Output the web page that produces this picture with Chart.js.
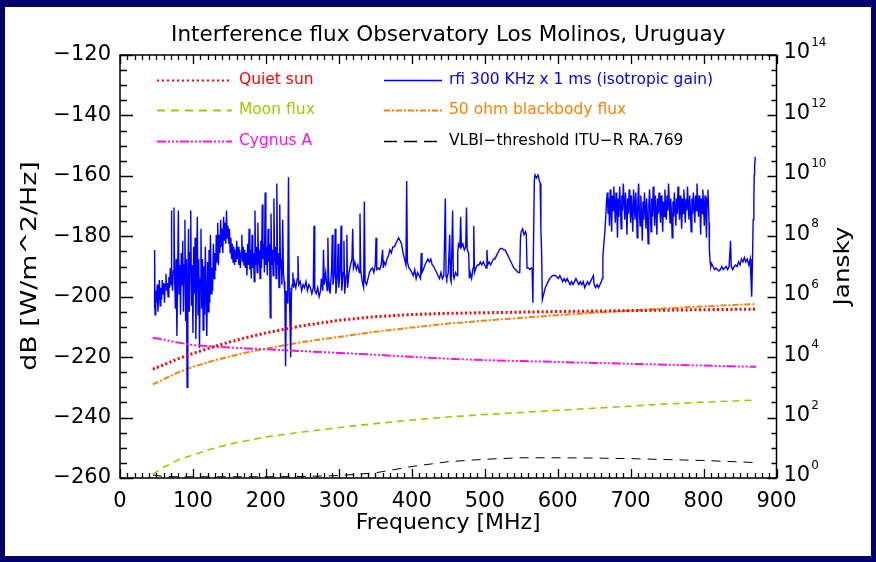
<!DOCTYPE html>
<html>
<head>
<meta charset="utf-8">
<title>Interference flux Observatory Los Molinos</title>
<script src="https://cdn.jsdelivr.net/npm/chart.js@4.4.1/dist/chart.umd.min.js"></script>
<style>
  html, body { margin: 0; padding: 0; background: #000068; }
  canvas { display: block; }
</style>
</head>
<body>
<canvas id="fluxChart" width="876" height="562"></canvas>
<script>
// Interference flux, Los Molinos

// smooth model curves, common frequency grid (MHz)
const smoothFreq = [45, 60, 80, 100, 125, 150, 175, 200, 250, 300, 350, 400, 450, 500, 550, 600, 650, 700, 750, 800, 872];
const quietSun = [-224, -222.5, -220.5, -218.8, -216.8, -215, -213.4, -212, -209.6, -207.8, -206.6, -205.9, -205.5, -205.3, -205.1, -204.9, -204.75, -204.6, -204.45, -204.3, -204.1];
const blackbody = [-229, -227.3, -225, -223.2, -221.4, -219.8, -218.4, -217.2, -215, -213.3, -211.6, -210.2, -208.9, -207.9, -207, -206.1, -205.3, -204.6, -203.8, -203.2, -202.4];
const cygnusA = [-213.6, -214.2, -215.2, -216, -216.4, -216.8, -217.1, -217.4, -218, -218.6, -219.2, -219.9, -220.5, -221, -221.3, -221.6, -221.9, -222.2, -222.5, -222.8, -223.2];
const moonFlux = [-258.7, -256.4, -254, -252.4, -250.4, -248.8, -247.6, -246.4, -244.8, -243.3, -242, -240.8, -239.8, -239, -238.3, -237.6, -236.9, -236.2, -235.5, -234.9, -234.2];
const vlbiThreshold = [-259, -259.5, -259.6, -259.6, -259.6, -259.6, -259.6, -259.6, -259.5, -259.2, -258.3, -256.2, -254.6, -253.8, -253.3, -253.3, -253.4, -253.6, -253.9, -254.2, -254.9];

// measured rfi spectrum [MHz, dB]
const rfiPoints = [
  [47,-204],[47.5,-184.5],[48,-206],[49,-198],[50,-202],[51,-196],[52,-205],[53,-199],[54,-194.5],[55,-203],[56,-197],[57,-201],[58,-194.5],[59,-199],[60,-195.5],[61,-202],[62,-196],[63,-192.5],[64,-198],[65,-195.5],[66,-200],[67,-193.5],[68,-197],[69,-190.5],[70,-196],[70.5,-171.5],[71,-192.5],[72,-198],
  [73,-191.5],[74,-170.5],[75,-195],[76,-204],[77,-187.5],[78,-213],[79,-193.5],[80,-171.5],[81,-199],[82,-189.5],[83,-206],[84,-185.5],
  [85,-196],[86,-181.5],[87,-205],[88,-189.5],[89,-174.5],[90,-208],[91,-187.5],[92,-230],[93,-194],[94,-177.5],[95,-205],[96,-185.5],[97,-171.5],[98,-203],[99,-189.5],[100,-212],[101,-183.5],[102,-199],[103,-180.5],[104,-214],[105,-191],[106,-173.5],[107,-206],[108,-187.5],[109,-217],[110,-194],[111,-177.5],[112,-204],[113,-187.5],[114,-211],[115,-190],[116,-206],[117,-183.5],[118,-200],[119,-213],[120,-188.5],[121,-205],[122,-184.5],[123,-202],[124,-179.5],[125,-199],
  [126,-190.5],[127,-198],[128,-182.5],[129,-194],[130,-185.5],[131,-191.5],[132,-179.5],[133,-188.5],[134,-175.5],[135,-189.5],[136,-179.5],[137,-185.5],[138,-174.5],[139,-183.5],[140,-177.5],[141,-185.5],[142,-173.5],[143,-181.5],[144,-175.5],[145,-182.5],[146,-171.5],[147,-180.5],[148,-176.5],
  [149,-182.5],[150,-177.5],[151,-185.5],[152,-180.5],[153,-187.5],[154,-182.5],[155,-188.5],[156,-183.5],[157,-189.5],[158,-184.5],[159,-188.5],[160,-181.5],[161,-187.5],[162,-183.5],[163,-189.5],[164,-184.5],[165,-190.5],[166,-185.5],[167,-179.5],[168,-188.5],[169,-183.5],[170,-189.5],[171,-184.5],
  [172,-190.5],[173,-185.5],[174,-193],[175,-182.5],[176,-189.5],[177,-177.5],[178,-191],[179,-184.5],[180,-194],[181,-179.5],[182,-190.5],[183,-185.5],[184,-195],[185,-171.5],[186,-189.5],[187,-183.5],[188,-192],[189,-175.5],[190,-189.5],[191,-184.5],[192,-194],[193,-181.5],[194,-190.5],[195,-169.5],[196,-187.5],[197,-182.5],[198,-192],[199,-165.5],[200,-189.5],[201,-183.5],[202,-193],[203,-177.5],[204,-188.5],[205,-182.5],[206,-207],[207,-172.5],[208,-189.5],[209,-184.5],[210,-193],[211,-167.5],[212,-188.5],[213,-183.5],
  [214,-194],[215,-162.5],[216,-189.5],[217,-185.5],[218,-197],[219,-169.5],[220,-191],[221,-187.5],[222,-196],[223,-174.5],[224,-192],
  [225,-195],[226,-199],[227,-223],[228,-198],[229,-202],[230,-194],[231,-160.5],[232,-197],[233,-207],[234,-220],[235,-199],[236,-196],[237,-192],[238,-197],
  [239,-195],[241,-197],[243,-194],[244,-186.5],[245,-196],[247,-195],[249,-198],[251,-196],[253,-197],[255,-195],[257,-198],[259,-196],[261,-197],[263,-199],[265,-197],[266,-176.5],[267,-198],[269,-199],[271,-197],[273,-200],[275,-198],
  [276,-194],[278,-198],[279,-184.5],[280,-196],[282,-192],[284,-198],[285,-180.5],[286,-194],[288,-199],[290,-191],[291,-179.5],[292,-196],[294,-192],[295,-177.5],[296,-199],[298,-193],[299,-182.5],[300,-197],[302,-191],[303,-176.5],[304,-198],[306,-192],[307,-181.5],[308,-199],[310,-193],[311,-179.5],[312,-197],[314,-192],
  [316,-189.5],[318,-187.5],[319,-177.5],[320,-190.5],[322,-188.5],[324,-191],[326,-189.5],[328,-192],
  [329,-172.5],[330,-191],[332,-195],[334,-197],[335,-168.5],[336,-195],[338,-196],[340,-194],[342,-192],
  [344,-191],[346,-190.5],[348,-192],[350,-189.5],[351,-180.5],[352,-191],[354,-190.5],[356,-191],[358,-189.5],[360,-184.5],[361,-190.5],[362,-188.5],[364,-189.5],[366,-187.5],[368,-186.5],[370,-184.5],[372,-185.5],[374,-183.5],
  [376,-183.5],[378,-182.5],[380,-181.5],[382,-180.5],[384,-181.5],[386,-182.5],[388,-185.5],
  [390,-187.5],[392,-189.5],[393,-161.7],[394,-188.5],[396,-190.5],[398,-191],
  [400,-192],[402,-193],[404,-191],[406,-194],[408,-192],[410,-193],[412,-194],[413,-185.5],[414,-192],[416,-191],
  [418,-189.5],[420,-188.5],[422,-187.5],[424,-188.5],[426,-187.5],[428,-189.5],[430,-190],[432,-191],[434,-192],
  [436,-193],[438,-194],[440,-192],[442,-194],[444,-193],[446,-167.5],[447,-193],[448,-194],[450,-192],[452,-179.5],[453,-194],[454,-195],[456,-171.5],[457,-193],[458,-194],[460,-192],[462,-193],
  [463,-185.5],[464,-182.5],[466,-183.5],[467,-173.5],[468,-183.5],[470,-182.5],[472,-184.5],[474,-183.5],[475,-170.5],[476,-184.5],[478,-185.5],[479,-194],[480,-192],
  [482,-194],[484,-190.5],[485,-176.5],[486,-192],[488,-190.5],[490,-189.5],
  [492,-189.5],[494,-188.5],[496,-189.5],[498,-188.5],[500,-189.5],[502,-190.5],[503,-184.5],[504,-189.5],[506,-188.5],[508,-189.5],[510,-188.5],[512,-187.5],[514,-187.5],[516,-186.5],
  [518,-185.5],[520,-184.5],[522,-184],[524,-184],[526,-184.5],[528,-184.5],[530,-185.5],[532,-186.5],[534,-187.5],[536,-188.5],[538,-189.5],[540,-190.5],[542,-191],[544,-191.5],[546,-192],[548,-192],
  [549,-180.5],[550,-178.5],[552,-177.5],[554,-179.5],[556,-178.5],[557,-179.5],
  [558,-190.5],[560,-190.5],[562,-191],[564,-190.5],[565,-191],
  [566,-202],[567,-180.5],[568,-161.7],[569,-159.7],[571,-160.7],[573,-159.7],[575,-161.7],[576,-162.5],[577,-177.5],[578,-185.5],[579,-201],
  [581,-199],[583,-197],[585,-196],[587,-195],[589,-194],[591,-193.5],[593,-193],[595,-193],
  [597,-193],[599,-193.5],[601,-194],[603,-193],[605,-194],[607,-195],[609,-194],[611,-195],[613,-194],
  [615,-195],[617,-196],[619,-195],[621,-196],[623,-195],[625,-194],[627,-195],[629,-196],[631,-195],[633,-196],[635,-195],[637,-197],[639,-196],[641,-195],[643,-196],[645,-195],[647,-194],[649,-193],
  [650,-196],[652,-197],[654,-196],[656,-197],[658,-196],[660,-195],
  [661,-194],[662,-186.5],[663,-183.5],[665,-177.5],[667,-168.5],
  [668,-165.5],[669,-172.5],[670,-167.5],[671,-176.5],[672,-164.5],[673,-170.5],[674,-178.5],[675,-166.5],[676,-171.5],[677,-163.5],[678,-169.5],[679,-175.5],[680,-165.5],[681,-170.5],[682,-180.5],[683,-167.5],[684,-173.5],[685,-163.5],[686,-169.5],[687,-177.5],[688,-166.5],[689,-171.5],[690,-162.5],[691,-168.5],[692,-174.5],[693,-165.5],[694,-170.5],[695,-179.5],[696,-167.5],[697,-172.5],[698,-164.5],[699,-169.5],[700,-175.5],
  [701,-166.5],[702,-171.5],[703,-178.5],[704,-164.5],[705,-169.5],[706,-174.5],[707,-165.5],[708,-170.5],[709,-180.5],[710,-167.5],[711,-162.5],[712,-171.5],[713,-176.5],[714,-166.5],[715,-172.5],[716,-181.5],[717,-168.5],[718,-174.5],[719,-165.5],[720,-170.5],[721,-177.5],[722,-167.5],[723,-173.5],[724,-182.5],[725,-169.5],[726,-164.5],[727,-171.5],[728,-178.5],[729,-167.5],[730,-173.5],
  [731,-163.5],[732,-169.5],[733,-176.5],[734,-166.5],[735,-171.5],[736,-179.5],[737,-167.5],[738,-172.5],[739,-165.5],[740,-170.5],[741,-175.5],[742,-166.5],[743,-171.5],[744,-178.5],[745,-168.5],[746,-173.5],[747,-164.5],[748,-169.5],[749,-174.5],[750,-166.5],[751,-171.5],[752,-162.5],[753,-168.5],[754,-175.5],[755,-167.5],[756,-172.5],[757,-180.5],[758,-168.5],[759,-173.5],[760,-165.5],
  [761,-170.5],[762,-176.5],[763,-167.5],[764,-172.5],[765,-163.5],[766,-169.5],[767,-174.5],[768,-166.5],[769,-171.5],[770,-177.5],[771,-167.5],[772,-172.5],[773,-164.5],[774,-169.5],[775,-175.5],[776,-167.5],[777,-171.5],[778,-163.5],[779,-169.5],[780,-174.5],[781,-166.5],[782,-171.5],[783,-178.5],[784,-167.5],[785,-172.5],[786,-165.5],[787,-170.5],[788,-175.5],[789,-166.5],[790,-171.5],
  [791,-162.5],[792,-168.5],[793,-173.5],[794,-166.5],[795,-170.5],[796,-179.5],[797,-167.5],[798,-172.5],[799,-164.5],[800,-169.5],[801,-176.5],[802,-166.5],[803,-171.5],[804,-180.5],[805,-167.5],[806,-164.5],[807,-171.5],
  [807.5,-175.5],[808,-184.5],[809,-188.5],[810,-190],[811,-189],
  [813,-190],[815,-191],[817,-190.5],[819,-191],[821,-191.5],[823,-191],[825,-190],[827,-191],[829,-190.5],[831,-190],[833,-191],[835,-190],[837,-181.5],[838,-190],[840,-191],[842,-190],[844,-189.5],[846,-190],[848,-188.5],[850,-189.5],[852,-187.5],[854,-188.5],[856,-187],[858,-188.5],[860,-187.5],[862,-189.5],[864,-187.5],
  [865,-194],[866,-200],[867,-189.5],[868,-174.5],[869,-167.5],[869.5,-159.7],[870,-156.7],[871,-153.7]
];

// axis ticks
const dbTicks = [-260, -240, -220, -200, -180, -160, -140, -120];
const freqTicks = [0, 100, 200, 300, 400, 500, 600, 700, 800, 900];
const janskyExponents = [0, 2, 4, 6, 8, 10, 12, 14];

const FONT = "'DejaVu Sans', sans-serif";

function smoothSeries(values) {
  return smoothFreq.map((f, i) => ({ x: f, y: values[i] }));
}

const datasets = [
  { label: 'Quiet sun', data: smoothSeries(quietSun), borderColor: '#ff0000', borderWidth: 3, borderDash: [2, 2.5], legendDash: [2, 3] },
  { label: 'Moon flux', data: smoothSeries(moonFlux), borderColor: '#99cc00', borderWidth: 1.6, borderDash: [7, 5], legendDash: [8, 6] },
  { label: 'Cygnus A', data: smoothSeries(cygnusA), borderColor: '#ff10e8', borderWidth: 2, borderDash: [9, 2, 2, 2, 2, 2, 2, 2], legendDash: [9, 2, 2, 2, 2, 2, 2, 2] },
  { label: 'rfi 300 KHz x 1 ms (isotropic gain)', data: rfiPoints.map(p => ({ x: p[0], y: p[1] })), borderColor: '#0000ff', borderWidth: 1.4, borderDash: [], legendDash: [] },
  { label: '50 ohm blackbody flux', data: smoothSeries(blackbody), borderColor: '#ff8000', borderWidth: 2, borderDash: [6, 2, 2, 2], legendDash: [6, 2, 2, 2] },
  { label: 'VLBI\u2212threshold ITU\u2212R RA.769', data: smoothSeries(vlbiThreshold), borderColor: '#000000', borderWidth: 1, borderDash: [9, 7], legendDash: [13, 7] }
];

// rotated axis title, stretched along the text like the IDL vector font
function drawSideTitle(ctx, text, x, y, size, stretch) {
  ctx.save();
  ctx.translate(x, y);
  ctx.rotate(-Math.PI / 2);
  ctx.scale(stretch, 1);
  ctx.font = size + 'px ' + FONT;
  ctx.fillText(text, 0, 0);
  ctx.restore();
}

// frame, inward ticks, titles and legend drawn on top of the chart
const idlFrame = {
  id: 'idlFrame',
  beforeDraw(chart) {
    const ctx = chart.ctx;
    ctx.save();
    ctx.fillStyle = '#000068';
    ctx.fillRect(0, 0, chart.width, chart.height);
    ctx.fillStyle = '#ffffff';
    ctx.fillRect(5, 7, 866, 549);
    ctx.restore();
  },
  afterDraw(chart) {
    const ctx = chart.ctx;
    const a = chart.chartArea;
    const sx = chart.scales.x, sy = chart.scales.y, sj = chart.scales.jy;
    ctx.save();
    ctx.strokeStyle = '#000';
    ctx.lineWidth = 1.5;
    ctx.strokeRect(a.left, a.top, a.right - a.left, a.bottom - a.top);

    ctx.beginPath();
    for (let v = 0; v <= 900; v += 10) {
      const px = Math.round(sx.getPixelForValue(v)) + 0.5;
      const len = v % 100 === 0 ? 9 : 5;
      ctx.moveTo(px, a.bottom); ctx.lineTo(px, a.bottom - len);
      ctx.moveTo(px, a.top); ctx.lineTo(px, a.top + len);
    }
    for (let v = -260; v <= -120; v += 5) {
      const py = Math.round(sy.getPixelForValue(v)) + 0.5;
      const len = v % 20 === 0 ? 13 : 7;
      ctx.moveTo(a.left, py); ctx.lineTo(a.left + len, py);
    }
    for (let e = 0; e <= 14; e += 0.5) {
      const py = Math.round(sj.getPixelForValue(Math.pow(10, e))) + 0.5;
      const len = e % 2 === 0 ? 9 : 5;
      ctx.moveTo(a.right, py); ctx.lineTo(a.right - len, py);
    }
    ctx.lineWidth = 1.3;
    ctx.stroke();

    // right axis labels 10^n
    ctx.fillStyle = '#000';
    ctx.textBaseline = 'middle';
    ctx.textAlign = 'left';
    janskyExponents.forEach(e => {
      const py = sj.getPixelForValue(Math.pow(10, e));
      ctx.font = '21px ' + FONT;
      ctx.fillText('10', a.right + 7, py - 2);
      const w = ctx.measureText('10').width;
      ctx.font = '12px ' + FONT;
      ctx.fillText(String(e), a.right + 8 + w, py - 12);
    });

    // titles
    ctx.textAlign = 'center';
    ctx.font = '21.5px ' + FONT;
    ctx.fillText('Interference flux Observatory Los Molinos, Uruguay', (a.left + a.right) / 2, 35);
    ctx.font = '22px ' + FONT;
    ctx.fillText('Frequency [MHz]', (a.left + a.right) / 2, 523);
    drawSideTitle(ctx, 'dB [W/m^2/Hz]', 30, 266, 22, 1.22);
    drawSideTitle(ctx, 'Jansky', 843, 266, 22, 1.12);

    // legend, two columns inside the plot
    const cols = [{ x0: 157, x1: 232, tx: 239 }, { x0: 384, x1: 442, tx: 449 }];
    const rows = [80, 110, 141];
    ctx.font = '15.5px ' + FONT;
    ctx.textAlign = 'left';
    chart.data.datasets.forEach((ds, i) => {
      const c = cols[Math.floor(i / 3)];
      const y = rows[i % 3];
      ctx.strokeStyle = ds.borderColor;
      ctx.lineWidth = i === 0 ? 2 : (ds.borderWidth > 1.5 ? 1.8 : 1.3);
      ctx.setLineDash(ds.legendDash);
      ctx.beginPath();
      ctx.moveTo(c.x0, y + 0.5);
      ctx.lineTo(c.x1, y + 0.5);
      ctx.stroke();
      ctx.setLineDash([]);
      ctx.fillStyle = ds.borderColor;
      ctx.fillText(ds.label, c.tx, y);
    });
    ctx.restore();
  }
};

new Chart(document.getElementById('fluxChart'), {
  type: 'line',
  data: { datasets: datasets },
  options: {
    responsive: false,
    animation: false,
    layout: { padding: { top: 55, left: 0, right: 0, bottom: 0 } },
    elements: { point: { radius: 0 }, line: { tension: 0, fill: false } },
    plugins: { legend: { display: false }, tooltip: { enabled: false }, title: { display: false } },
    scales: {
      x: {
        type: 'linear', position: 'bottom', min: 0, max: 900,
        afterBuildTicks: s => { s.ticks = freqTicks.map(v => ({ value: v })); },
        ticks: { color: '#000', padding: 11, maxRotation: 0, font: { family: FONT, size: 21 } },
        grid: { display: false, drawTicks: false },
        border: { display: false },
        afterFit: s => { s.height = 84; }
      },
      y: {
        type: 'linear', position: 'left', min: -260, max: -120,
        afterBuildTicks: s => { s.ticks = dbTicks.map(v => ({ value: v })); },
        ticks: { color: '#000', padding: 9, font: { family: FONT, size: 21 }, callback: v => String(v).replace('-', '\u2212') },
        grid: { display: false, drawTicks: false },
        border: { display: false },
        afterFit: s => { s.width = 120; }
      },
      jy: {
        type: 'logarithmic', position: 'right', min: 1, max: 1e14, display: true,
        ticks: { display: false },
        grid: { display: false, drawTicks: false },
        border: { display: false },
        afterFit: s => { s.width = 99.5; }
      }
    }
  },
  plugins: [idlFrame]
});
</script>
</body>
</html>
